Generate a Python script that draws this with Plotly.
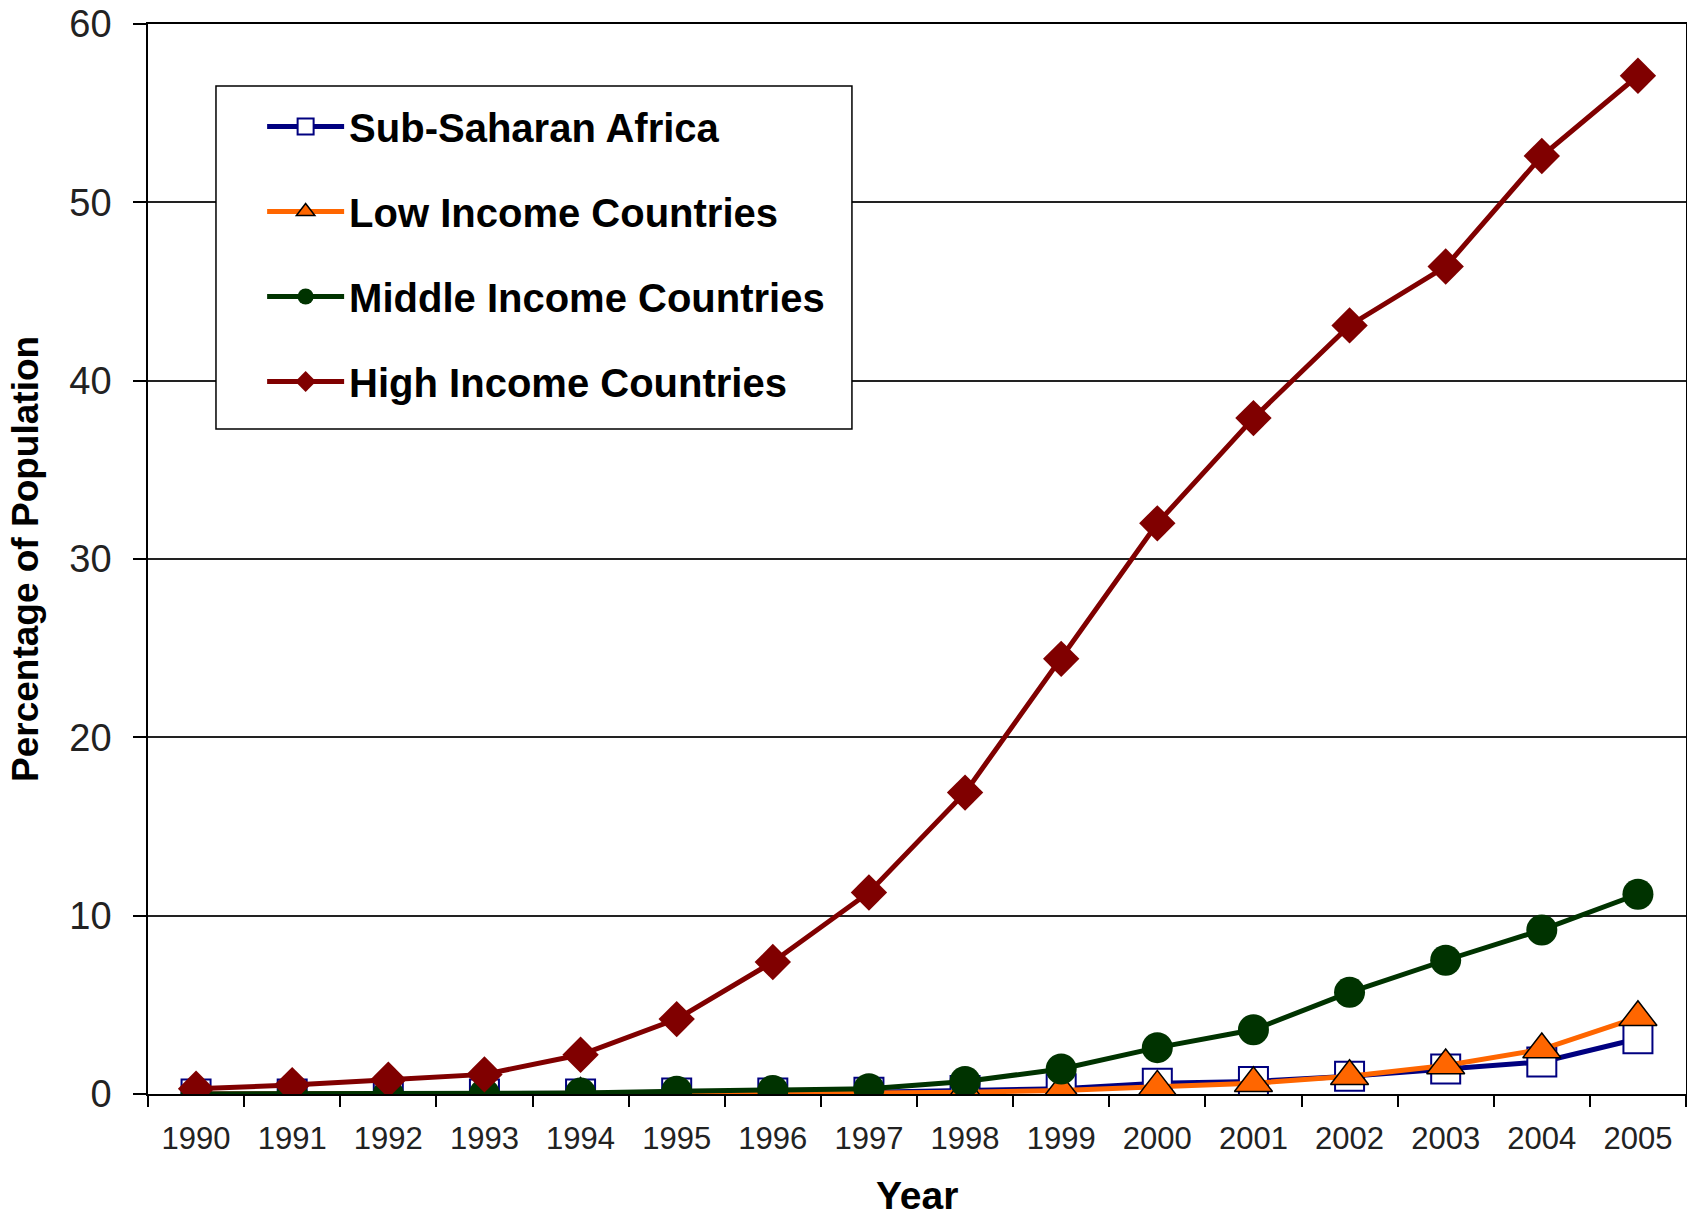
import plotly.graph_objects as go

years = [str(y) for y in range(1990, 2006)]
sub_saharan = [0.0, 0.0, 0.0, 0.0, 0.0, 0.05, 0.05, 0.1, 0.2, 0.3, 0.6, 0.7, 1.0, 1.4, 1.8, 3.1]
low_income = [0.0, 0.0, 0.0, 0.0, 0.0, 0.0, 0.0, 0.05, 0.1, 0.2, 0.4, 0.6, 1.0, 1.6, 2.5, 4.3]
middle_income = [0.0, 0.0, 0.0, 0.0, 0.05, 0.15, 0.2, 0.3, 0.7, 1.4, 2.6, 3.6, 5.7, 7.5, 9.2, 11.2]
high_income = [0.3, 0.5, 0.8, 1.1, 2.2, 4.2, 7.4, 11.3, 16.9, 24.4, 32.0, 37.9, 43.1, 46.4, 52.6, 57.1]

y_ticks = [0, 10, 20, 30, 40, 50, 60]

BOLD = "Liberation Sans, Arial, sans-serif"

fig = go.Figure()
fig.add_trace(go.Scatter(
    x=years, y=sub_saharan, name="Sub-Saharan Africa", legendgroup="a",
    mode="lines+markers",
    line=dict(color="#000080", width=5),
    marker=dict(symbol="square", size=29, color="white", line=dict(color="#000080", width=2)),
))
fig.add_trace(go.Scatter(
    x=years, y=low_income, name="Low Income Countries", legendgroup="b",
    mode="lines+markers",
    line=dict(color="#FF6600", width=5),
    marker=dict(symbol="triangle-up", size=33, color="#FF6600", line=dict(color="black", width=1.5)),
))
fig.add_trace(go.Scatter(
    x=years, y=middle_income, name="Middle Income Countries", legendgroup="c",
    mode="lines+markers",
    line=dict(color="#003300", width=5),
    marker=dict(symbol="circle", size=31, color="#003300"),
))
fig.add_trace(go.Scatter(
    x=years, y=high_income, name="High Income Countries", legendgroup="d",
    mode="lines+markers",
    line=dict(color="#800000", width=5),
    marker=dict(symbol="diamond", size=28, color="#800000"),
))

fig.update_layout(
    width=1687, height=1216,
    margin=dict(l=148, r=1, t=24, b=122, autoexpand=False),
    paper_bgcolor="white", plot_bgcolor="white",
    font=dict(family=BOLD, color="#111"),
    legend=dict(
        x=0.0742, y=0.9346, xanchor="left", yanchor="top",
        bgcolor="rgba(0,0,0,0)", borderwidth=0,
        font=dict(size=40, family=BOLD, color="black", weight="bold"),
        tracegroupgap=30, itemwidth=77,
    ),
    showlegend=True,
    shapes=[dict(
        type="rect", xref="paper", yref="paper",
        x0=0.0442, x1=0.4577, y0=0.6215, y1=0.942,
        line=dict(color="black", width=1.5), fillcolor="white", layer="above",
    )],
    annotations=[
        dict(text="Year", xref="paper", yref="paper", x=0.5, y=0, yshift=-101,
             xanchor="center", yanchor="middle", showarrow=False,
             font=dict(size=39, family=BOLD, color="black", weight="bold")),
        dict(text="Percentage of Population", xref="paper", yref="paper", x=0, y=0.5,
             xshift=-123, xanchor="center", yanchor="middle", showarrow=False, textangle=-90,
             font=dict(size=37, family=BOLD, color="black", weight="bold")),
    ],
)
fig.update_xaxes(
    type="category", range=[-0.5, 15.5], automargin=False,
    showline=True, linecolor="black", linewidth=1.5, mirror=True,
    ticks="outside", tickson="boundaries", ticklen=11, tickcolor="black", tickwidth=1.5,
    tickfont=dict(size=31, family="Liberation Sans, Arial, sans-serif", color="#222"),
    ticklabelstandoff=16, ticklabeloverflow="allow",
    showgrid=False,
)
fig.update_yaxes(
    range=[0, 60], tickvals=y_ticks, automargin=False,
    showline=True, linecolor="black", linewidth=1.5, mirror=True,
    ticks="outside", ticklen=13, tickcolor="black", tickwidth=1.5,
    tickfont=dict(size=38, color="#222"),
    ticklabelstandoff=14, ticklabeloverflow="allow",
    showgrid=True, gridcolor="#222", gridwidth=1.5,
    zeroline=False,
)

fig.write_html("out.html", config={"displayModeBar": False},
               post_script="document.body.style.margin='0';")
